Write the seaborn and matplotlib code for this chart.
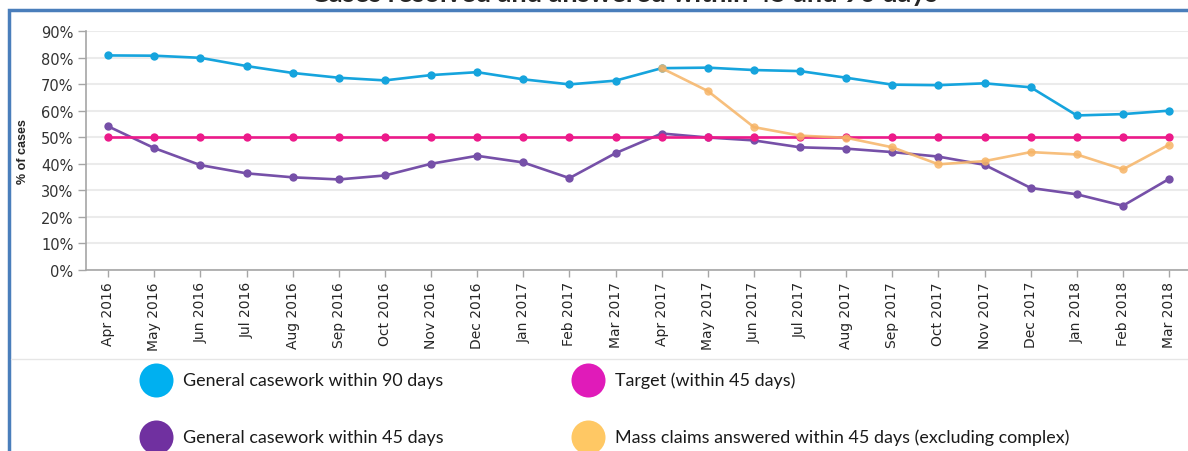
import numpy as np
import pandas as pd
import matplotlib
matplotlib.use('Agg')
import matplotlib.pyplot as plt
from matplotlib.lines import Line2D
from matplotlib.patches import Rectangle
import seaborn as sns

# Data
months = ['Apr 2016', 'May 2016', 'Jun 2016', 'Jul 2016', 'Aug 2016', 'Sep 2016',
          'Oct 2016', 'Nov 2016', 'Dec 2016', 'Jan 2017', 'Feb 2017', 'Mar 2017',
          'Apr 2017', 'May 2017', 'Jun 2017', 'Jul 2017', 'Aug 2017', 'Sep 2017',
          'Oct 2017', 'Nov 2017', 'Dec 2017', 'Jan 2018', 'Feb 2018', 'Mar 2018']
within_90 = [80.8, 80.7, 79.9, 76.8, 74.2, 72.4, 71.4, 73.4, 74.5, 71.8, 69.9, 71.3,
             76.0, 76.2, 75.3, 74.9, 72.4, 69.8, 69.6, 70.3, 68.8, 58.2, 58.7, 60.0]
within_45 = [54.1, 45.9, 39.5, 36.4, 34.9, 34.1, 35.6, 40.0, 43.0, 40.5, 34.6, 44.0,
             51.4, 49.9, 48.8, 46.2, 45.7, 44.4, 42.7, 39.6, 30.9, 28.5, 24.2, 34.3]
target = [50, 50, 50, 50, 50, 50, 50, 50, 50, 50, 50, 50,
          50, 50, 50, 50, 50, 50, 50, 50, 50, 50, 50, 50]
mass_months = ['Apr 2017', 'May 2017', 'Jun 2017', 'Jul 2017', 'Aug 2017', 'Sep 2017',
               'Oct 2017', 'Nov 2017', 'Dec 2017', 'Jan 2018', 'Feb 2018', 'Mar 2018']
mass_claims = [76.0, 67.4, 53.8, 50.6, 49.8, 46.2, 39.8, 41.0, 44.4, 43.5, 37.9, 47.2]

labels = ['General casework within 90 days', 'Target (within 45 days)',
          'General casework within 45 days',
          'Mass claims answered within 45 days (excluding complex)']

frames = [
    pd.DataFrame({'month': months, 'pct': within_90, 'series': labels[0]}),
    pd.DataFrame({'month': months, 'pct': within_45, 'series': labels[2]}),
    pd.DataFrame({'month': months, 'pct': target, 'series': labels[1]}),
    pd.DataFrame({'month': mass_months, 'pct': mass_claims, 'series': labels[3]}),
]

line_colors = {labels[0]: '#16A4DD', labels[1]: '#EC1A8A',
               labels[2]: '#7650A8', labels[3]: '#F6B466'}
line_alpha = {labels[0]: 1.0, labels[1]: 1.0, labels[2]: 1.0, labels[3]: 0.85}
legend_colors = ['#00B0F0', '#E01BB9', '#7030A0', '#FFC864']

sns.set_style('white')
plt.rcParams['font.family'] = ['DejaVu Sans']

fig = plt.figure(figsize=(11.88, 4.52), dpi=100)
ax = fig.add_axes([86 / 1188, 1 - 271 / 452, 1 - 86 / 1188, (271 - 32) / 452])

for df in frames:
    name = df['series'].iloc[0]
    sns.lineplot(data=df, x='month', y='pct', ax=ax, sort=False,
                 color=line_colors[name], alpha=line_alpha[name],
                 linewidth=1.9, marker='o', markersize=6, markeredgewidth=0)

ax.set_ylim(0, 90)
ax.set_xlim(-0.48, 23.41)
ax.set_yticks(np.arange(0, 91, 10))
ax.set_yticklabels([f'{v}%' for v in range(0, 91, 10)])
ax.set_xticks(range(len(months)))
ax.set_xticklabels(months, rotation=90)
ax.yaxis.grid(True, color='#EBEBEB', linewidth=1.5)
ax.set_axisbelow(True)
ax.set_xlabel('')
ax.set_ylabel('% of cases', fontsize=9, fontweight='bold', family='Liberation Sans')
ax.yaxis.set_label_coords(-57 / 1102, 0.5)

for side in ['top', 'right']:
    ax.spines[side].set_visible(False)
for side in ['left', 'bottom']:
    ax.spines[side].set_color('#A6A6A6')
    ax.spines[side].set_linewidth(1.2)

ax.tick_params(axis='y', length=6, width=1, color='#A6A6A6', labelsize=10.5,
               labelcolor='#333333', pad=3, left=True)
ax.tick_params(axis='x', length=5, width=1, color='#A6A6A6', labelsize=10,
               labelcolor='#262626', pad=3, bottom=True)

# frame and separator
fig.add_artist(Rectangle((9 / 1188, -0.2), 1.2, 1 - 11 / 452 + 0.2,
                         transform=fig.transFigure, fill=False,
                         edgecolor='#4A7EBB', linewidth=2.5))
fig.add_artist(Line2D([11 / 1188, 1], [1 - 360 / 452, 1 - 360 / 452],
                      transform=fig.transFigure, color='#E6E6E6', linewidth=1))

# title (cut off at top edge like the reference)
fig.text(624 / 1188, 1 - 2 / 452, 'Cases resolved and answered within 45 and 90 days',
         ha='center', va='baseline', fontsize=19.5, fontweight='bold', family='Lato')

# legend
legend_pos = [(156, 381), (588, 381), (156, 438), (588, 438)]
for (px, py), lab, col in zip(legend_pos, labels, legend_colors):
    fig.add_artist(Line2D([px / 1188], [1 - py / 452], transform=fig.transFigure,
                          marker='o', markersize=24.5, color=col, markeredgewidth=0,
                          linestyle='none'))
    fig.text((px + 27) / 1188, 1 - py / 452, lab, ha='left', va='center',
             fontsize=12.9, family='Lato', color='#1A1A1A')

fig.savefig('out.png', dpi=100)
